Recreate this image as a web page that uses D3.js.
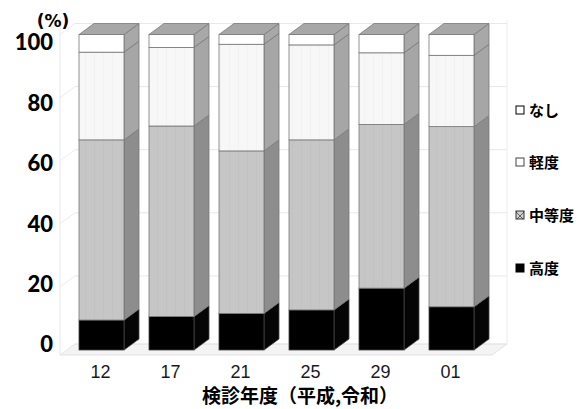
<!DOCTYPE html>
<html lang="ja">
<head>
<meta charset="utf-8">
<script src="https://cdn.jsdelivr.net/npm/d3@7"></script>
<style>
  html, body { margin: 0; padding: 0; background: #fff; }
  svg { display: block; }
</style>
</head>
<body>
<svg id="chart" width="582" height="409"></svg>
<script>
// 検診年度（平成・令和）
const years = ["12", "17", "21", "25", "29", "01"];
// 重症度別の割合（%）
const severe   = [9.5, 10.6, 11.6, 12.7, 19.6, 13.7];   // 高度
const moderate = [57.1, 60.4, 51.5, 53.9, 51.9, 57.1];  // 中等度
const mild     = [27.8, 24.9, 33.8, 30.1, 22.7, 22.6];  // 軽度
const none     = [5.6, 4.1, 3.1, 3.3, 5.8, 6.6];        // なし
const yTicks = [0, 20, 40, 60, 80, 100];
const seriesNames = ["高度", "中等度", "軽度", "なし"];

const svg = d3.select("#chart");

// 3D depth offset
const DX = 15, DY = 11;

const x = d3.scaleBand().domain(years).range([66.5, 486.5]).paddingInner(25 / 70).paddingOuter(12.5 / 70);
const y = d3.scaleLinear().domain([0, 100]).range([350, 34.5]);
// tick label positions on the projected axis
const yLab = d3.scaleLinear().domain([0, 100]).range([344.5, 42.5]);

const rows = years.map((yr, i) => ({ year: yr, 高度: severe[i], 中等度: moderate[i], 軽度: mild[i], なし: none[i] }));
const stacked = d3.stack().keys(seriesNames)(rows);

const defs = svg.append("defs");
function stripes(id, bg, line) {
  const p = defs.append("pattern").attr("id", id).attr("patternUnits", "userSpaceOnUse")
    .attr("width", 9).attr("height", 9);
  p.append("rect").attr("width", 9).attr("height", 9).attr("fill", bg);
  p.append("line").attr("x1", 4.5).attr("x2", 4.5).attr("y1", 0).attr("y2", 9)
    .attr("stroke", line).attr("stroke-width", 0.7);
}
stripes("pModerate", "#c6c6c6", "#c0c0c0");
stripes("pMild", "#f7f7f7", "#efefef");
const hatch = defs.append("pattern").attr("id", "pHatch").attr("patternUnits", "userSpaceOnUse")
  .attr("width", 8).attr("height", 8);
hatch.append("rect").attr("width", 8).attr("height", 8).attr("fill", "#d0d0d0");
hatch.append("path").attr("d", "M0,0L8,8M8,0L0,8").attr("stroke", "#555").attr("stroke-width", 0.9);

const style = {
  "高度":  { front: "#000", side: "#050505", edge: "#444" },
  "中等度": { front: "url(#pModerate)", side: "#8d8d8d", edge: "#777" },
  "軽度":  { front: "url(#pMild)", side: "#a6a6a6", edge: "#777" },
  "なし":  { front: "#fff", side: "#a8a8a8", edge: "#777" }
};

// back wall, floor and gridlines
const wallL = 60, wallR = 507;
const g0 = svg.append("g");
g0.append("path")
  .attr("d", `M${wallL},${y(0) + 5}L${wallL + DX},${y(0) + 5 - DY}L${wallR},${y(0) + 5 - DY}L${wallR - DX},${y(0) + 5}Z`)
  .attr("fill", "#f4f4f4").attr("stroke", "#e2e2e2").attr("stroke-width", 1);
g0.append("line").attr("x1", wallL).attr("x2", wallL).attr("y1", y(100) - 8).attr("y2", y(0) + 5)
  .attr("stroke", "#ececec").attr("stroke-width", 1.2);
yTicks.forEach(v => {
  const yy = y(v) - DY + (v === 0 ? 5 : 0);
  g0.append("line").attr("x1", wallL + DX).attr("x2", wallR).attr("y1", yy).attr("y2", yy)
    .attr("stroke", "#e8e8e8").attr("stroke-width", 1);
  g0.append("line").attr("x1", wallL).attr("x2", wallL + DX).attr("y1", yy + DY).attr("y2", yy)
    .attr("stroke", "#ececec").attr("stroke-width", 1);
});
g0.append("line").attr("x1", wallR).attr("x2", wallR).attr("y1", y(100) - DY - 3).attr("y2", y(0) - DY + 5)
  .attr("stroke", "#ececec").attr("stroke-width", 1);

// bars
const bars = svg.append("g");
years.forEach((yr, i) => {
  const x0 = x(yr), x1 = x0 + x.bandwidth();
  const gb = bars.append("g");
  stacked.forEach(layer => {
    const key = layer.key, d = layer[i];
    const yb = y(d[0]), yt = y(d[1]);
    const s = style[key];
    gb.append("path")
      .attr("d", `M${x1},${yb}L${x1 + DX},${yb - DY}L${x1 + DX},${yt - DY}L${x1},${yt}Z`)
      .attr("fill", s.side).attr("stroke", s.edge).attr("stroke-width", 0.8).attr("stroke-linejoin", "round");
    gb.append("rect").attr("x", x0).attr("y", yt).attr("width", x.bandwidth()).attr("height", yb - yt)
      .attr("fill", s.front).attr("stroke", s.edge).attr("stroke-width", 0.8);
  });
  const top = y(stacked[stacked.length - 1][i][1]);
  gb.append("path")
    .attr("d", `M${x0},${top}L${x0 + DX},${top - DY}L${x1 + DX},${top - DY}L${x1},${top}Z`)
    .attr("fill", "#a7a7a7").attr("stroke", "#7a7a7a").attr("stroke-width", 0.8).attr("stroke-linejoin", "round");
});

// y tick labels
svg.append("g").selectAll("text").data(yTicks).join("text")
  .attr("x", 53).attr("y", d => yLab(d) + 7.8)
  .attr("text-anchor", "end")
  .attr("font-family", "Lato, 'Open Sans', sans-serif").attr("font-weight", 900).attr("font-size", 22)
  .attr("fill", "#000").text(d => d);

svg.append("text").attr("x", 53).attr("y", 27).attr("text-anchor", "middle")
  .attr("font-family", "'DejaVu Sans', sans-serif").attr("font-weight", 700).attr("font-size", 17)
  .text("(%)");

// x tick labels
svg.append("g").selectAll("text").data(years).join("text")
  .attr("x", d => x(d) + x.bandwidth() / 2 - 1).attr("y", 378)
  .attr("text-anchor", "middle")
  .attr("font-family", "'Liberation Sans', Arial, sans-serif").attr("font-size", 18)
  .attr("fill", "#1a1a1a").text(d => d);

svg.append("text").attr("x", 300).attr("y", 403).attr("text-anchor", "middle")
  .attr("font-family", "'Noto Sans CJK JP', sans-serif").attr("font-weight", 700).attr("font-size", 19)
  .text("検診年度（平成,令和）");

// legend
const legend = [
  { name: "なし", y: 110, fill: "#fff", stroke: "#000" },
  { name: "軽度", y: 162, fill: "#fff", stroke: "#444" },
  { name: "中等度", y: 215, fill: "url(#pHatch)", stroke: "#333" },
  { name: "高度", y: 268, fill: "#000", stroke: "#000" }
];
const lg = svg.append("g");
legend.forEach(l => {
  lg.append("rect").attr("x", 516).attr("y", l.y - 4).attr("width", 8).attr("height", 8)
    .attr("fill", l.fill).attr("stroke", l.stroke).attr("stroke-width", 1);
  lg.append("text").attr("x", 529).attr("y", l.y + 5.5)
    .attr("font-family", "'Noto Sans CJK JP', sans-serif").attr("font-weight", 700).attr("font-size", 15)
    .text(l.name);
});
</script>
</body>
</html>
